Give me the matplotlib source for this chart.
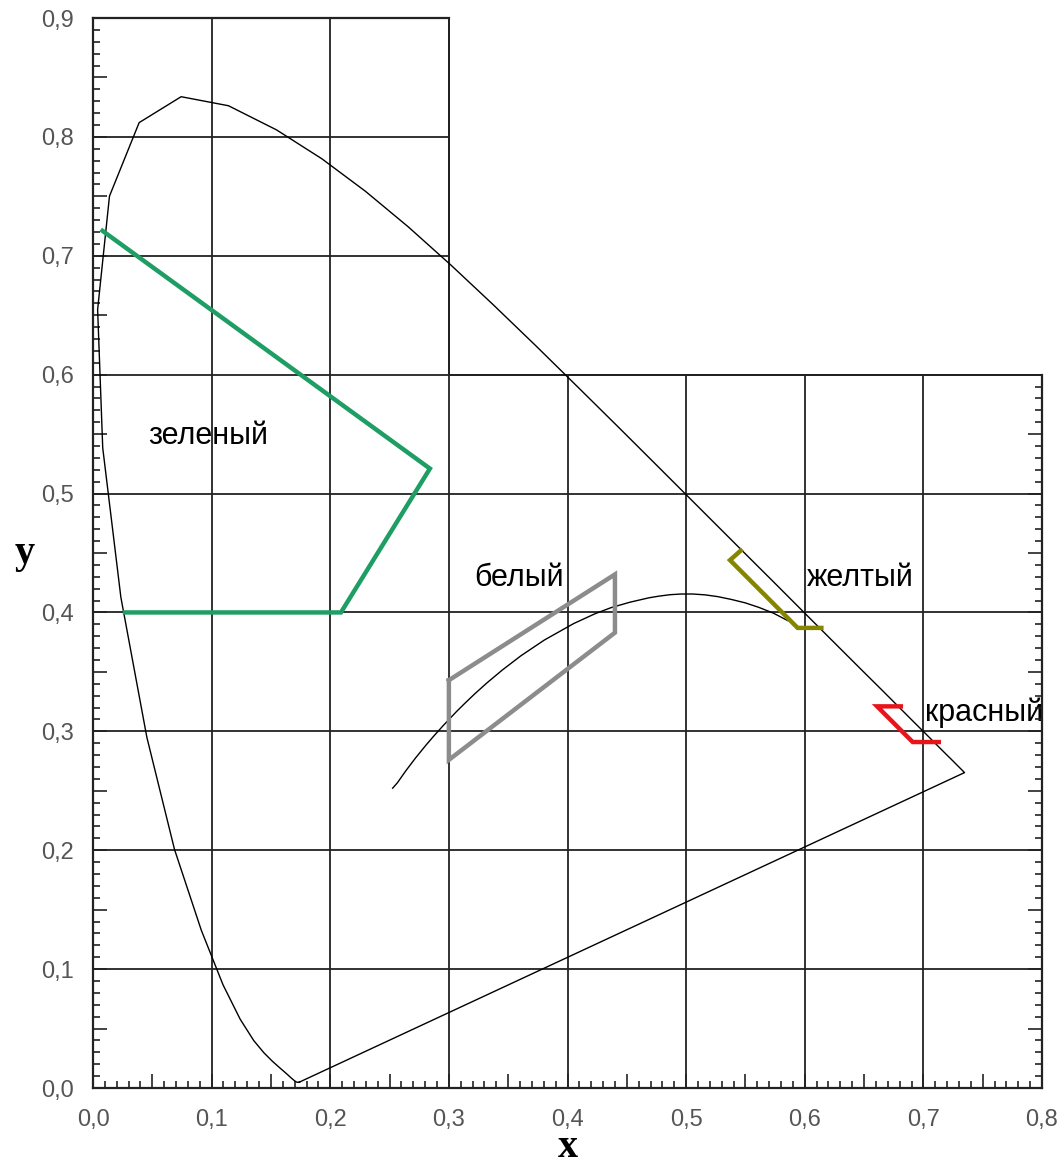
import matplotlib
matplotlib.use("Agg")
import matplotlib.pyplot as plt
from matplotlib.ticker import MultipleLocator, FixedLocator

# ---------------- data ----------------
# CIE 1931 spectral locus, 380..700 nm (5 nm)
locus_x = [0.1741, 0.1740, 0.1738, 0.1736, 0.1733, 0.1730, 0.1726, 0.1721, 0.1714, 0.1703,
           0.1689, 0.1669, 0.1644, 0.1611, 0.1566, 0.1510, 0.1440, 0.1355, 0.1241, 0.1096,
           0.0913, 0.0687, 0.0454, 0.0235, 0.0082, 0.0039, 0.0139, 0.0389, 0.0743, 0.1142,
           0.1547, 0.1929, 0.2296, 0.2658, 0.3016, 0.3373, 0.3731, 0.4087, 0.4441, 0.4788,
           0.5125, 0.5448, 0.5752, 0.6029, 0.6270, 0.6482, 0.6658, 0.6801, 0.6915, 0.7006,
           0.7079, 0.7140, 0.7190, 0.7230, 0.7260, 0.7283, 0.7300, 0.7311, 0.7320, 0.7327,
           0.7334, 0.7340, 0.7344, 0.7346, 0.7347]
locus_y = [0.0050, 0.0050, 0.0049, 0.0049, 0.0048, 0.0048, 0.0048, 0.0048, 0.0051, 0.0058,
           0.0069, 0.0086, 0.0109, 0.0138, 0.0177, 0.0227, 0.0297, 0.0399, 0.0578, 0.0868,
           0.1327, 0.2007, 0.2950, 0.4127, 0.5384, 0.6548, 0.7502, 0.8120, 0.8338, 0.8262,
           0.8059, 0.7816, 0.7543, 0.7243, 0.6923, 0.6589, 0.6245, 0.5896, 0.5547, 0.5202,
           0.4866, 0.4544, 0.4242, 0.3965, 0.3725, 0.3514, 0.3340, 0.3197, 0.3083, 0.2993,
           0.2920, 0.2859, 0.2809, 0.2770, 0.2740, 0.2717, 0.2700, 0.2689, 0.2680, 0.2673,
           0.2666, 0.2660, 0.2656, 0.2654, 0.2653]

# Planckian locus (25000 K .. 1500 K)
planck_x = [0.2526, 0.2565, 0.2637, 0.2719, 0.2807, 0.2869, 0.2952, 0.3064, 0.3135, 0.3221,
            0.3325, 0.3451, 0.3608, 0.3805, 0.4053, 0.4234, 0.4369, 0.4526, 0.4686, 0.4770,
            0.4862, 0.4958, 0.5056, 0.5159, 0.5267, 0.5383, 0.5497, 0.5612, 0.5736, 0.5857]
planck_y = [0.2522, 0.2566, 0.2668, 0.2776, 0.2884, 0.2956, 0.3048, 0.3166, 0.3236, 0.3318,
            0.3411, 0.3516, 0.3636, 0.3768, 0.3907, 0.3990, 0.4041, 0.4086, 0.4123, 0.4137,
            0.4149, 0.4155, 0.4155, 0.4148, 0.4133, 0.4109, 0.4081, 0.4043, 0.3994, 0.3931]

# signal colour boundaries
green_x = [0.008, 0.284, 0.209, 0.027]
green_y = [0.721, 0.521, 0.400, 0.400]
white_x = [0.300, 0.440, 0.440, 0.300, 0.300]
white_y = [0.343, 0.432, 0.383, 0.276, 0.343]
yellow_x = [0.546, 0.537, 0.594, 0.614]
yellow_y = [0.452, 0.444, 0.387, 0.387]
red_x = [0.681, 0.661, 0.691, 0.713]
red_y = [0.321, 0.321, 0.291, 0.291]

labels = ["зеленый", "белый", "желтый", "красный"]
label_x = [0.047, 0.321, 0.602, 0.701]
label_y = [0.548, 0.429, 0.429, 0.316]

xticks = [0.0, 0.1, 0.2, 0.3, 0.4, 0.5, 0.6, 0.7, 0.8]
yticks = [0.0, 0.1, 0.2, 0.3, 0.4, 0.5, 0.6, 0.7, 0.8, 0.9]
xtick_labels = ["0,0", "0,1", "0,2", "0,3", "0,4", "0,5", "0,6", "0,7", "0,8"]
ytick_labels = ["0,0", "0,1", "0,2", "0,3", "0,4", "0,5", "0,6", "0,7", "0,8", "0,9"]

# ---------------- figure ----------------
tick_font = ["Liberation Sans Narrow", "Liberation Sans", "DejaVu Sans"]
fig = plt.figure(figsize=(10.61, 11.68), dpi=100)
pos = [93 / 1061, 80 / 1168, 949 / 1061, 1070 / 1168]
ax = fig.add_axes(pos)
ax.set_xlim(0, 0.8)
ax.set_ylim(0, 0.9)
for s in ("top", "right"):
    ax.spines[s].set_visible(False)
for s in ("left", "bottom"):
    ax.spines[s].set_linewidth(1.6)
    ax.spines[s].set_color("#222222")

# grid (L-shaped frame)
gcol = "#222222"
glw = 1.3
for xv in xticks[1:-1]:
    top = 0.9 if xv <= 0.3 + 1e-9 else 0.6
    ax.plot([xv, xv], [0, top], color=gcol, lw=glw, zorder=1)
for yv in yticks[1:]:
    right = 0.8 if yv <= 0.6 + 1e-9 else 0.3
    ax.plot([0, right], [yv, yv], color=gcol, lw=glw, zorder=1)

# ticks
ax.xaxis.set_major_locator(FixedLocator([v / 100 for v in range(0, 81, 5)]))
ax.xaxis.set_minor_locator(MultipleLocator(0.01))
ax.yaxis.set_major_locator(FixedLocator([v / 100 for v in range(0, 91, 5)]))
ax.yaxis.set_minor_locator(MultipleLocator(0.01))
xl = []
for v in range(0, 81, 5):
    xl.append(xtick_labels[v // 10] if v % 10 == 0 else "")
yl = []
for v in range(0, 91, 5):
    yl.append(ytick_labels[v // 10] if v % 10 == 0 else "")
ax.set_xticklabels(xl)
ax.set_yticklabels(yl)
ax.tick_params(which="major", direction="in", length=10, width=1.2, color="#222222",
               labelsize=17, labelcolor="#555555")
ax.tick_params(axis="x", which="major", pad=15)
ax.tick_params(axis="y", which="major", pad=14)
ax.tick_params(which="minor", direction="in", length=5, width=1.2, color="#222222")
for t in ax.get_xticklabels() + ax.get_yticklabels():
    t.set_family(tick_font)

# overlay axes for the right-hand ticks (x = 0.8, y = 0..0.6)
h2 = pos[3] * 0.6 / 0.9
ax2 = fig.add_axes([pos[0], pos[1], pos[2], h2], facecolor="none")
ax2.set_xlim(0, 0.8)
ax2.set_ylim(0, 0.6)
for s in ("top", "left", "bottom"):
    ax2.spines[s].set_visible(False)
ax2.spines["right"].set_linewidth(1.6)
ax2.spines["right"].set_color("#222222")
ax2.xaxis.set_visible(False)
ax2.yaxis.tick_right()
ax2.yaxis.set_major_locator(FixedLocator([v / 100 for v in range(0, 61, 5)]))
ax2.yaxis.set_minor_locator(MultipleLocator(0.01))
ax2.tick_params(which="major", direction="in", length=10, width=1.2, color="#222222",
                labelright=False)
ax2.tick_params(which="minor", direction="in", length=5, width=1.2, color="#222222")

# upper frame lines
ax.plot([0, 0.3], [0.9, 0.9], color=gcol, lw=1.6, zorder=1, clip_on=False)
ax.plot([0.3, 0.3], [0.6, 0.9], color=gcol, lw=1.4, zorder=1, clip_on=False)
ax.plot([0.3, 0.8], [0.6, 0.6], color=gcol, lw=1.4, zorder=1, clip_on=False)

# spectral locus + purple line
ax.plot(locus_x + [locus_x[0]], locus_y + [locus_y[0]], color="black", lw=1.0, zorder=3)
# Planckian locus
ax.plot(planck_x, planck_y, color="black", lw=1.0, zorder=3)

# signal colours
ax.plot(green_x, green_y, color="#1e9e64", lw=3.2, zorder=4, solid_joinstyle="miter")
ax.plot(white_x, white_y, color="#8c8c8c", lw=3.2, zorder=4, solid_joinstyle="miter")
ax.plot(yellow_x, yellow_y, color="#858500", lw=3.2, zorder=4, solid_joinstyle="miter")
ax.plot(red_x, red_y, color="#e8141c", lw=3.2, zorder=4, solid_joinstyle="miter")

for s, lx, ly in zip(labels, label_x, label_y):
    ax.text(lx, ly, s, fontsize=22, family=["Liberation Sans", "DejaVu Sans"],
            ha="left", va="center", color="black", zorder=5)

# axis titles
ax.text(0.4, -0.05, "x", fontsize=29, fontweight="bold",
        family=["Liberation Serif", "DejaVu Serif"], ha="center", va="center")
ax.text(-0.058, 0.45, "y", fontsize=29, fontweight="bold",
        family=["Liberation Serif", "DejaVu Serif"], ha="center", va="center")

fig.savefig("out.png", dpi=100)
